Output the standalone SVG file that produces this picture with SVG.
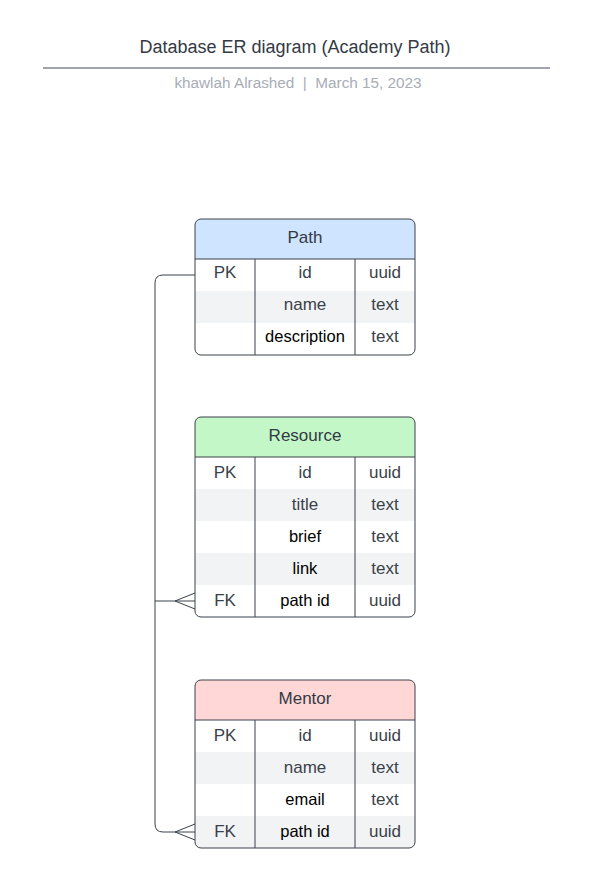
<svg xmlns="http://www.w3.org/2000/svg" width="603" height="885" viewBox="0 0 603 885">
<style>
text{font-family:"Liberation Sans",Arial,sans-serif;}
.t{font-size:18px;fill:#333a44;text-anchor:middle;}
.s{font-size:15.3px;fill:#a8adb5;text-anchor:middle;}
.c{font-size:17px;fill:#3a414a;text-anchor:middle;}
.k{font-size:16.5px;fill:#000;text-anchor:middle;}
.h{font-size:17px;fill:#333a44;text-anchor:middle;}
.sh{fill:#f2f3f5;}
.bd{fill:none;stroke:#3a414a;stroke-width:1;}
.ln{fill:none;stroke:#3a414a;stroke-width:1;}
</style>
<rect width="603" height="885" fill="#fff"/>
<g id="title">
<text class="t" x="295" y="53">Database ER diagram (Academy Path)</text>
<line x1="43" y1="68" x2="550" y2="68" stroke="#a0a4ab" stroke-width="2"/>
<text class="s" x="298" y="88" xml:space="preserve">khawlah Alrashed  |  March 15, 2023</text>
</g>
<g id="connectors">
<path class="ln" d="M195,275 H163 Q155,275 155,283 V824 Q155,832 163,832 H195"/>
<path class="ln" d="M155,601 H195 M175,601 L195,593 M175,601 L195,609"/>
<path class="ln" d="M175,832 L195,824 M175,832 L195,840"/>
</g>
<g id="path">
<path d="M201,219 H409 Q415,219 415,225 V259 H195 V225 Q195,219 201,219 Z" fill="#cfe4ff"/>
<rect class="sh" x="195" y="291" width="220" height="32"/>
<rect class="bd" x="195" y="219" width="220" height="136" rx="6"/>
<path class="ln" d="M195,259 H415 M255,259 V355 M355,259 V355"/>
<text class="h" x="305" y="243">Path</text>
<text class="c" x="225" y="278">PK</text><text class="c" x="305" y="278">id</text><text class="c" x="385" y="278">uuid</text>
<text class="c" x="305" y="310">name</text><text class="c" x="385" y="310">text</text>
<text class="k" x="305" y="342">description</text><text class="c" x="385" y="342">text</text>
</g>
<g id="resource">
<path d="M201,417 H409 Q415,417 415,423 V457 H195 V423 Q195,417 201,417 Z" fill="#c3f7c8"/>
<rect class="sh" x="195" y="489" width="220" height="32"/>
<rect class="sh" x="195" y="553" width="220" height="32"/>
<rect class="bd" x="195" y="417" width="220" height="200" rx="6"/>
<path class="ln" d="M195,457 H415 M255,457 V617 M355,457 V617"/>
<text class="h" x="305" y="441">Resource</text>
<text class="c" x="225" y="478">PK</text><text class="c" x="305" y="478">id</text><text class="c" x="385" y="478">uuid</text>
<text class="c" x="305" y="510">title</text><text class="c" x="385" y="510">text</text>
<text class="k" x="305" y="542">brief</text><text class="c" x="385" y="542">text</text>
<text class="k" x="305" y="574">link</text><text class="c" x="385" y="574">text</text>
<text class="c" x="225" y="606">FK</text><text class="k" x="305" y="606">path id</text><text class="c" x="385" y="606">uuid</text>
</g>
<g id="mentor">
<path d="M201,680 H409 Q415,680 415,686 V720 H195 V686 Q195,680 201,680 Z" fill="#ffd7d7"/>
<rect class="sh" x="195" y="752" width="220" height="32"/>
<path class="sh" d="M195,816 H415 V842 Q415,848 409,848 H201 Q195,848 195,842 Z"/>
<rect class="bd" x="195" y="680" width="220" height="168" rx="6"/>
<path class="ln" d="M195,720 H415 M255,720 V848 M355,720 V848"/>
<text class="h" x="305" y="704">Mentor</text>
<text class="c" x="225" y="741">PK</text><text class="c" x="305" y="741">id</text><text class="c" x="385" y="741">uuid</text>
<text class="c" x="305" y="773">name</text><text class="c" x="385" y="773">text</text>
<text class="k" x="305" y="805">email</text><text class="c" x="385" y="805">text</text>
<text class="c" x="225" y="837">FK</text><text class="k" x="305" y="837">path id</text><text class="c" x="385" y="837">uuid</text>
</g>
</svg>
